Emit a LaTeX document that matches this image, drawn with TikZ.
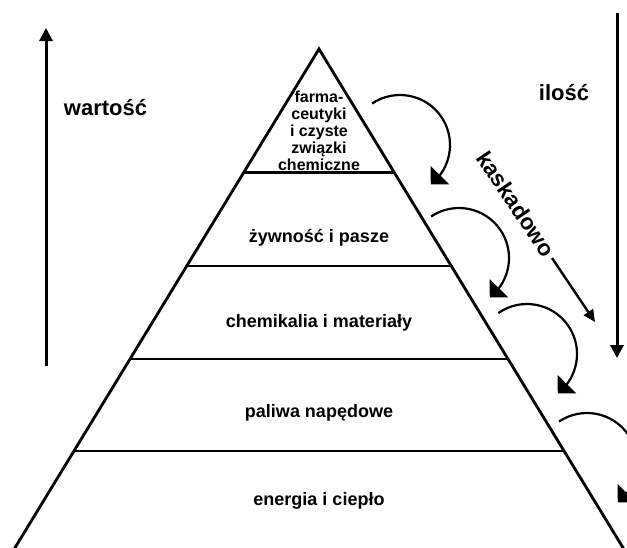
\documentclass[tikz,border=0pt]{standalone}
\usepackage{fontspec}
\setmainfont{Liberation Sans}
\usetikzlibrary{arrows.meta,bending}
\begin{document}
\begin{tikzpicture}[x=1pt,y=-1pt,
  edge/.style={line width=2.8pt,line join=miter},
  level/.style={font=\bfseries\fontsize{18}{20}\selectfont,anchor=base,inner sep=0pt},
  biglabel/.style={font=\bfseries\fontsize{22}{26}\selectfont,anchor=base,inner sep=0pt},
  curv/.style={line width=2.2pt,-{Triangle[length=13pt,width=26pt]}},
  vert/.style={line width=3pt,-{Triangle[length=13pt,width=13pt]}},
  kaskarrow/.style={line width=2.4pt,-{Triangle[length=12pt,width=11pt]}}]
\useasboundingbox (0,0) rectangle (627,547);
\clip (0,0) rectangle (627,547);
% pyramid
\coordinate (apex) at (319,49);
\coordinate (bl) at (7.5,560);
\coordinate (br) at (630.5,560);
\draw[edge] (bl) -- (apex) -- (br);
\draw[edge] (243.7,172.5) -- (394.3,172.5);
\draw[edge] (186.7,266) -- (451.3,266);
\draw[edge] (130.1,359) -- (507.9,359);
\draw[edge] (74.0,451) -- (564.0,451);
% labels
\node[anchor=base,inner sep=0pt,align=center,font=\bfseries\fontsize{16}{16.8}\selectfont] (farma) at (319,170)
  {farma-\\ceutyki\\i czyste\\związki\\chemiczne};
\node[level] (zyw) at (319,242) {żywność i pasze};
\node[level] (chem) at (319,327) {chemikalia i materiały};
\node[level] (pal) at (319,417) {paliwa napędowe};
\node[level] (ener) at (319,505) {energia i ciepło};
\node[biglabel] (wart) at (105.5,115) {wartość};
\node[biglabel] (ilosc) at (564,100) {ilość};
\node[font=\bfseries\fontsize{22.5}{26}\selectfont,rotate=-56,inner sep=0pt] (kask) at (516,204) {kaskadowo};
% vertical arrows
\coordinate (ls) at (46,366);
\coordinate (lt) at (46,28);
\draw[vert] (ls) -- (lt);
\coordinate (rs) at (617,13);
\coordinate (rt) at (617,358);
\draw[vert] (rs) -- (rt);
% kaskadowo arrow
\coordinate (ks) at (552,258);
\coordinate (kt) at (595,322);
\draw[kaskarrow] (ks) -- (kt);
% cascade curved arrows
\coordinate (c1) at (400,145);
\coordinate (c2) at (459,258);
\coordinate (c3) at (527,354);
\coordinate (c4) at (587,463);
\draw[curv] (c1) ++(-124:50) arc[start angle=-124,end angle=52,radius=50];
\draw[curv] (c2) ++(-124:50) arc[start angle=-124,end angle=52,radius=50];
\draw[curv] (c3) ++(-125:50) arc[start angle=-125,end angle=52,radius=50];
\draw[curv] (c4) ++(-124:50) arc[start angle=-124,end angle=52,radius=50];
\end{tikzpicture}
\end{document}
